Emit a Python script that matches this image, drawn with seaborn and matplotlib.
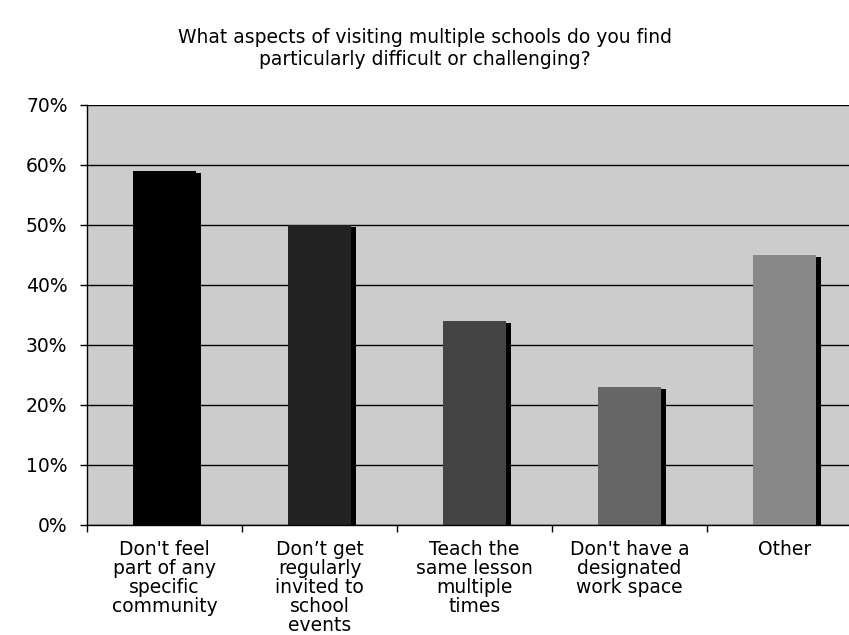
import matplotlib
matplotlib.use("Agg")
import matplotlib.pyplot as plt
import matplotlib.transforms as mtransforms
import seaborn as sns
import pandas as pd

categories = [
    "Don't feel\npart of any\nspecific\ncommunity",
    "Don\u2019t get\nregularly\ninvited to\nschool\nevents",
    "Teach the\nsame lesson\nmultiple\ntimes",
    "Don't have a\ndesignated\nwork space",
    "Other",
]
values = [59, 50, 34, 23, 45]
colors = ["#000000", "#222222", "#444444", "#666666", "#888888"]
yticks = [0, 10, 20, 30, 40, 50, 60, 70]
title = "What aspects of visiting multiple schools do you find\nparticularly difficult or challenging?"

sns.set_style("white")
plt.rcParams['font.family'] = ['DejaVu Sans']
plt.rcParams['text.color'] = 'black'
plt.rcParams['xtick.color'] = 'black'
plt.rcParams['ytick.color'] = 'black'

df = pd.DataFrame({"cat": categories, "val": values})

fig = plt.figure(figsize=(8.49, 6.35), dpi=100)
ax = fig.add_axes([87/849, 110/635, 775/849, 420/635])
ax.set_facecolor("#cccccc")

# shadow bars
sns.barplot(data=df, x="cat", y="val", color="black", width=0.41, ax=ax,
            saturation=1, zorder=2)
n_shadow = len(ax.patches)
offset = mtransforms.ScaledTranslation(5/100, -2/100, fig.dpi_scale_trans)
for p in ax.patches:
    p.set_transform(ax.transData + offset)
    p.set_edgecolor("none")
    p.set_clip_on(True)
# main bars
sns.barplot(data=df, x="cat", y="val", hue="cat", palette=colors, legend=False,
            width=0.41, ax=ax, saturation=1, zorder=3)
for p in ax.patches[n_shadow:]:
    p.set_edgecolor("none")

ax.set_ylim(0, 70)
ax.set_xlim(-0.5, 4.5)
ax.set_yticks(yticks)
ax.set_yticklabels([f"{t}%" for t in yticks])
ax.yaxis.grid(True, color="black", linewidth=1.0, zorder=1)
ax.set_axisbelow(True)
ax.set_xlabel("")
ax.set_ylabel("")

ax.set_xticks(range(len(categories)))
ax.set_xticklabels(categories, linespacing=1.0)
ax.set_xticks([i - 0.5 for i in range(len(categories) + 1)], minor=True)
ax.tick_params(axis="x", which="major", length=0, pad=11, labelsize=13.5)
ax.tick_params(axis="x", which="minor", length=5, width=1, color="black", direction="out", bottom=True)
ax.tick_params(axis="y", which="major", length=5, width=1, color="black", direction="out",
               left=True, pad=9, labelsize=13.5)

for s in ["top", "right"]:
    ax.spines[s].set_visible(False)
for s in ["left", "bottom"]:
    ax.spines[s].set_color("black")
    ax.spines[s].set_linewidth(1.0)
    ax.spines[s].set_zorder(5)

fig.text(0.5, 1 - 28/635, title, ha="center", va="top", fontsize=13.5, linespacing=1.2)

fig.savefig("out.png", dpi=100)
